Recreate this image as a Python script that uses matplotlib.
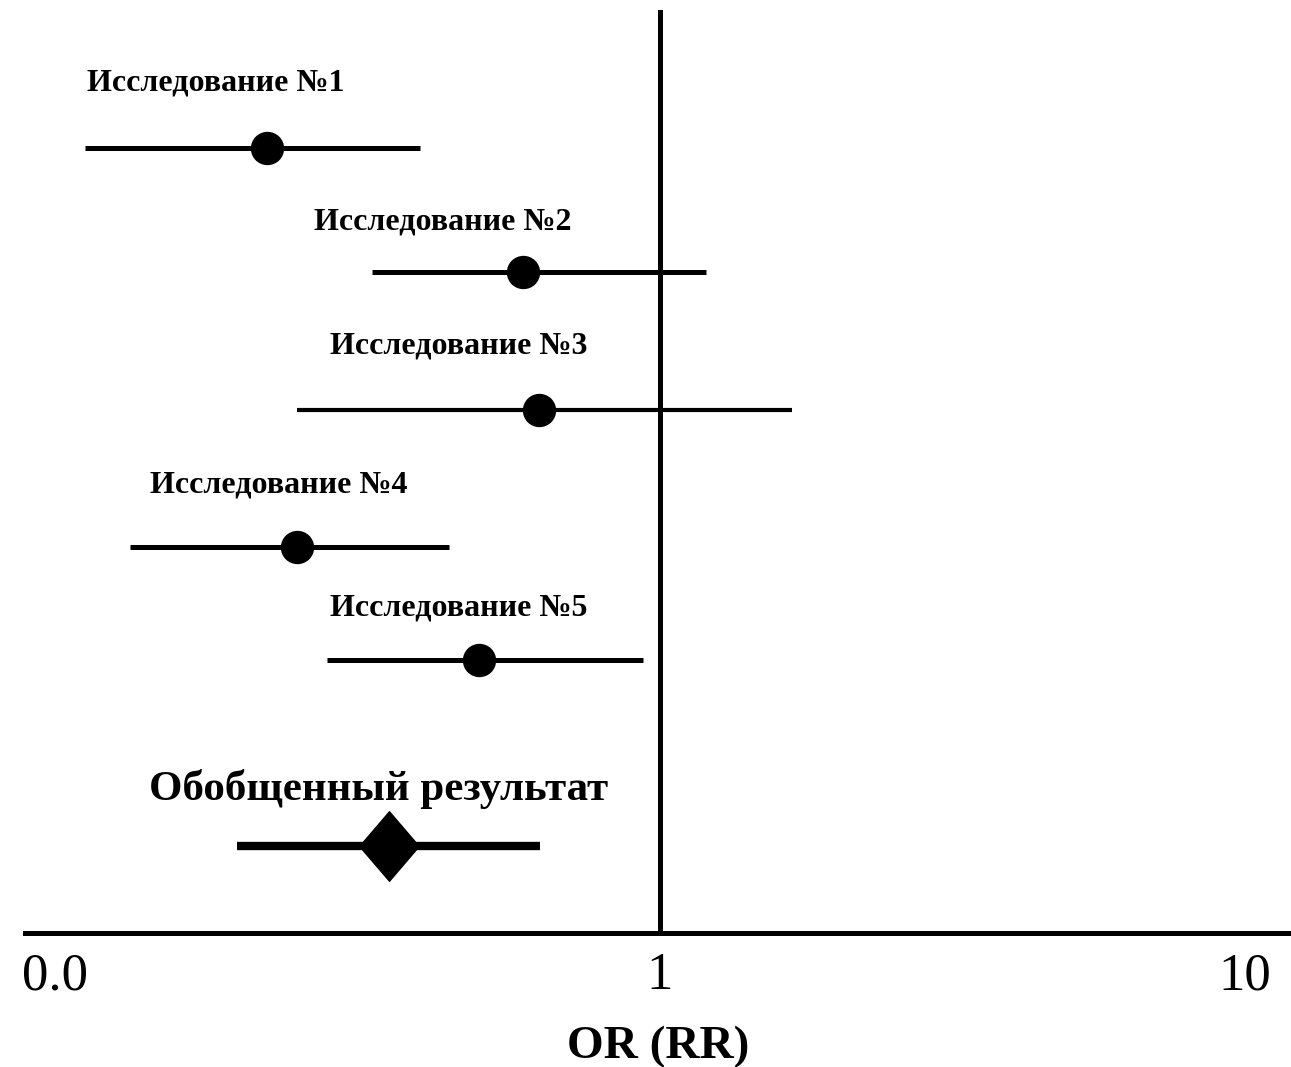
import numpy as np
import matplotlib.pyplot as plt
import matplotlib.transforms as mtransforms
from matplotlib.path import Path

plt.rcParams['font.family'] = ['Liberation Serif', 'DejaVu Serif']

# forest plot data
studies = ['Исследование №1', 'Исследование №2', 'Исследование №3',
           'Исследование №4', 'Исследование №5']
est = [0.213, 0.583, 0.621, 0.240, 0.490]
lo = [0.104, 0.322, 0.240, 0.124, 0.270]
hi = [0.389, 1.20, 1.68, 0.436, 0.935]

pooled_label = 'Обобщенный результат'
pooled_est = 0.344
pooled_lo = 0.189
pooled_hi = 0.624

tick_vals = [0.1, 1, 10]
tick_labels = ['0.0', '1', '10']

# layout (pixel rows of the original picture)
row_y = [148, 272, 410, 547, 660]
lab_y = [83, 222, 346, 485, 608]
lab_x = [0.174, 0.426, 0.453, 0.223, 0.453]
pooled_y = 846
pooled_lab_y = 789
pooled_lab_x = 0.330

fig = plt.figure(figsize=(12.91, 10.67), dpi=100)
ax = fig.add_axes([25 / 1291, 1 - 933 / 1067, 1 - 25 / 1291, (933 - 10) / 1067])
ax.set_xscale('log')
ax.set_xlim(10 ** -1.0855, 10 ** 1.0786)
ax.set_ylim(933, 10)

for i in range(len(studies)):
    lw = 3.0 if i == 2 else 3.6
    ax.plot([lo[i], hi[i]], [row_y[i], row_y[i]], color='black', lw=lw,
            solid_capstyle='butt', zorder=3)
    ax.plot(est[i], row_y[i], 'o', color='black', ms=23, zorder=4)
    ax.text(lab_x[i], lab_y[i], studies[i], ha='center', va='center',
            fontsize=23, fontweight='bold', zorder=5)

diamond = Path([(0, 1), (0.857, 0), (0, -1), (-0.857, 0), (0, 1)],
               [Path.MOVETO, Path.LINETO, Path.LINETO, Path.LINETO, Path.CLOSEPOLY])
ax.plot([pooled_lo, pooled_hi], [pooled_y, pooled_y], color='black', lw=6,
        solid_capstyle='butt', zorder=3)
ax.plot(pooled_est, pooled_y, marker=diamond, color='black', ms=50, zorder=4)
ax.text(pooled_lab_x, pooled_lab_y, pooled_label, ha='center', va='center',
        fontsize=31, fontweight='bold', zorder=5)

ax.axvline(1, color='black', lw=3.6, zorder=2)

for s in ['top', 'right', 'left']:
    ax.spines[s].set_visible(False)
ax.spines['bottom'].set_linewidth(3.6)
ax.set_yticks([])
ax.set_xticks(tick_vals)
ax.set_xticklabels(tick_labels, fontsize=38)
ax.xaxis.set_minor_locator(plt.NullLocator())
ax.tick_params(axis='x', length=0, pad=14)
first = ax.get_xticklabels()[0]
first.set_transform(first.get_transform() +
                    mtransforms.ScaledTranslation(-0.2, 0, fig.dpi_scale_trans))
ax.set_xlabel('OR (RR)', fontsize=34, fontweight='bold', labelpad=18)

fig.savefig('out.png', dpi=100)
